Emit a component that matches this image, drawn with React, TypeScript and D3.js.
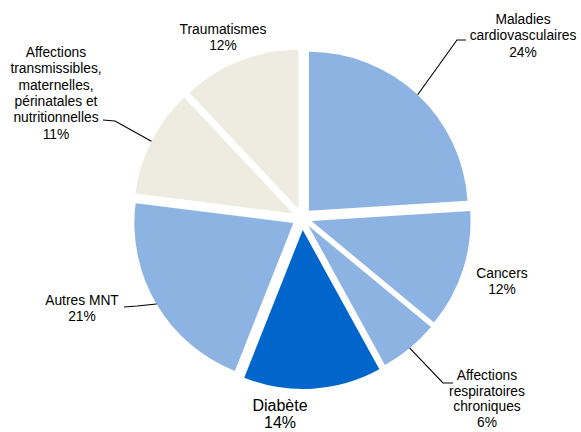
import React, { useEffect, useRef } from "react";
import * as d3 from "d3";

// data
const causes = [
  "Maladies cardiovasculaires",
  "Cancers",
  "Affections respiratoires chroniques",
  "Diabète",
  "Autres MNT",
  "Affections transmissibles, maternelles, périnatales et nutritionnelles",
  "Traumatismes",
];
const shares = [24, 12, 6, 14, 21, 11, 12];
const labelLines = [
  ["Maladies", "cardiovasculaires", "24%"],
  ["Cancers", "12%"],
  ["Affections", "respiratoires", "chroniques", "6%"],
  ["Diabète", "14%"],
  ["Autres MNT", "21%"],
  ["Affections", "transmissibles,", "maternelles,", "périnatales et", "nutritionnelles", "11%"],
  ["Traumatismes", "12%"],
];

const colors = ["#8DB3E2", "#8DB3E2", "#8DB3E2", "#0066CC", "#8DB3E2", "#EEECE1", "#EEECE1"];
const explode = [10, 10, 10, 12, 10, 10, 10];

// label layout: anchor x, first baseline y, font size, leader elbow + end (or null)
const labelLayout = [
  { x: 523, y: 24, size: 13.8, lh: 16.3, leader: [[457, 40], [466, 40]] },
  { x: 502, y: 278, size: 13.8, lh: 16.3, leader: null },
  { x: 487, y: 380, size: 13.8, lh: 15.6, leader: [[443, 383], [453, 383]] },
  { x: 280, y: 411, size: 16, lh: 16.5, leader: null },
  { x: 82, y: 305, size: 13.8, lh: 16.3, leader: [[137, 306], [124, 307]] },
  { x: 56, y: 57, size: 13.8, lh: 16.3, leader: [[115, 121], [103, 120]] },
  { x: 223, y: 34, size: 13.8, lh: 16.3, leader: null },
];

const W = 581;
const H = 432;
const cx = 302;
const cy = 218;
const R = 159;

const App = () => {
  const ref = useRef<SVGSVGElement | null>(null);

  useEffect(() => {
    const svg = d3.select(ref.current);
    svg.selectAll("*").remove();

    const data = causes.map((c, i) => ({ cause: c, value: shares[i], i }));
    const pie = d3
      .pie<any>()
      .sort(null)
      .value((d) => d.value)
      .startAngle(0);
    const arc = d3.arc<any>().innerRadius(0).outerRadius(R);
    const arcs = pie(data);

    const g = svg.append("g").attr("transform", `translate(${cx},${cy})`);

    const offset = (d: any) => {
      const a = (d.startAngle + d.endAngle) / 2;
      const k = explode[d.data.i];
      return [Math.sin(a) * k, -Math.cos(a) * k];
    };

    g.selectAll("path")
      .data(arcs)
      .enter()
      .append("path")
      .attr("d", arc)
      .attr("fill", (d) => colors[d.data.i])
      .attr("transform", (d) => {
        const [ox, oy] = offset(d);
        return `translate(${ox},${oy})`;
      });

    // leader lines from the middle of each slice's outer edge
    arcs.forEach((d) => {
      const lay = labelLayout[d.data.i];
      if (!lay.leader) return;
      const a = (d.startAngle + d.endAngle) / 2;
      const [ox, oy] = offset(d);
      const sx = cx + ox + Math.sin(a) * R;
      const sy = cy + oy - Math.cos(a) * R;
      const pts = [[sx, sy], ...lay.leader];
      svg
        .append("path")
        .attr("d", d3.line()(pts as [number, number][]))
        .attr("fill", "none")
        .attr("stroke", "#000")
        .attr("stroke-width", 1.1);
    });

    labelLines.forEach((lines, i) => {
      const lay = labelLayout[i];
      const t = svg
        .append("text")
        .attr("text-anchor", "middle")
        .attr("font-family", "'Liberation Sans', Arial, sans-serif")
        .attr("font-size", lay.size)
        .attr("fill", "#000");
      lines.forEach((line, j) => {
        t.append("tspan")
          .attr("x", lay.x)
          .attr("y", lay.y + j * lay.lh)
          .text(line);
      });
    });
  }, []);

  return (
    <svg
      ref={ref}
      width={W}
      height={H}
      style={{ position: "fixed", left: 0, top: 0, background: "#fff" }}
    />
  );
};

export default App;
